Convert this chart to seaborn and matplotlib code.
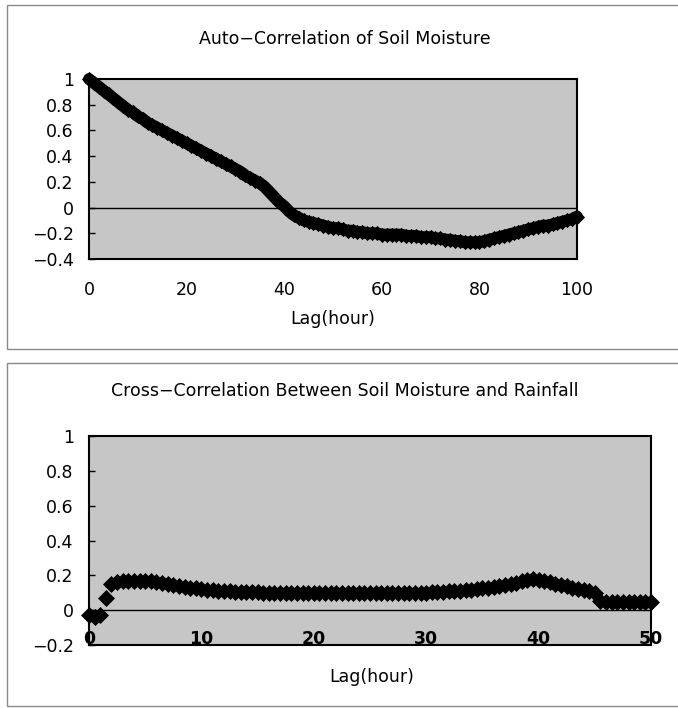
import pandas as pd
import seaborn as sns
import matplotlib.pyplot as plt
from matplotlib.patches import Rectangle

# 1. data
# auto-correlation of soil moisture, lag 0..100 hours
auto_lag = list(range(0, 101))
auto_r = [1.00, 0.97, 0.94, 0.91, 0.88, 0.85, 0.82, 0.79, 0.76, 0.74,
          0.71, 0.69, 0.66, 0.64, 0.62, 0.60, 0.58, 0.56, 0.54, 0.52,
          0.50, 0.48, 0.46, 0.44, 0.42, 0.40, 0.38, 0.36, 0.34, 0.32,
          0.30, 0.28, 0.25, 0.23, 0.21, 0.19, 0.16, 0.12, 0.08, 0.04,
          0.01, -0.03, -0.06, -0.08, -0.10, -0.11, -0.12, -0.13, -0.14, -0.15,
          -0.16, -0.16, -0.17, -0.18, -0.18, -0.19, -0.19, -0.20, -0.20, -0.20,
          -0.21, -0.21, -0.21, -0.21, -0.21, -0.22, -0.22, -0.22, -0.23, -0.23,
          -0.23, -0.24, -0.24, -0.25, -0.25, -0.26, -0.26, -0.27, -0.27, -0.27,
          -0.27, -0.26, -0.25, -0.24, -0.23, -0.22, -0.21, -0.20, -0.19, -0.18,
          -0.17, -0.16, -0.15, -0.14, -0.14, -0.13, -0.12, -0.11, -0.10, -0.09,
          -0.07]

# cross-correlation soil moisture / rainfall, lag 0..50 hours every half hour
cross_lag = [i / 2 for i in range(0, 101)]
cross_r = [-0.03, -0.04, -0.03, 0.07, 0.15, 0.16, 0.165, 0.17, 0.17, 0.17,
           0.17, 0.165, 0.16, 0.155, 0.15, 0.145, 0.14, 0.135, 0.13, 0.125,
           0.12, 0.118, 0.115, 0.112, 0.11, 0.108, 0.106, 0.105, 0.104, 0.103,
           0.102, 0.101, 0.10, 0.10, 0.10, 0.10, 0.10, 0.10, 0.10, 0.10,
           0.10, 0.10, 0.10, 0.10, 0.10, 0.10, 0.10, 0.10, 0.10, 0.10,
           0.10, 0.10, 0.10, 0.10, 0.10, 0.10, 0.10, 0.10, 0.10, 0.10,
           0.10, 0.102, 0.104, 0.106, 0.108, 0.11, 0.112, 0.115, 0.118, 0.12,
           0.125, 0.13, 0.135, 0.14, 0.145, 0.15, 0.158, 0.165, 0.172, 0.178,
           0.175, 0.168, 0.16, 0.152, 0.145, 0.138, 0.13, 0.122, 0.115, 0.108,
           0.10, 0.05, 0.045, 0.045, 0.045, 0.045, 0.045, 0.045, 0.045, 0.045,
           0.045]

auto_xticks = [0, 20, 40, 60, 80, 100]
auto_yticks = [-0.4, -0.2, 0, 0.2, 0.4, 0.6, 0.8, 1]
auto_ylabels = ['\u22120.4', '\u22120.2', '0', '0.2', '0.4', '0.6', '0.8', '1']
cross_xticks = [0, 10, 20, 30, 40, 50]
cross_yticks = [-0.2, 0, 0.2, 0.4, 0.6, 0.8, 1]
cross_ylabels = ['\u22120.2', '0', '0.2', '0.4', '0.6', '0.8', '1']

auto_df = pd.DataFrame({'lag': auto_lag, 'r': auto_r})
cross_df = pd.DataFrame({'lag': cross_lag, 'r': cross_r})

# 2. style
sns.set_style('white')
plt.rcParams['font.family'] = ['DejaVu Sans']
plt.rcParams['text.color'] = 'black'
plt.rcParams['xtick.color'] = 'black'
plt.rcParams['ytick.color'] = 'black'

W, H = 678, 708
fig = plt.figure(figsize=(W / 100, H / 100), dpi=100)
fs = 12.5


def px_axes(left, top, right, bottom):
    return fig.add_axes([left / W, 1 - bottom / H, (right - left) / W, (bottom - top) / H])


# panel frames
for top, bottom in [(5, 349), (363, 706)]:
    fig.patches.append(Rectangle((7 / W, 1 - bottom / H), 1.0, (bottom - top) / H,
                                 transform=fig.transFigure, fill=False,
                                 edgecolor='#8a8a8a', linewidth=1.0))

bg = '#c6c6c6'

# 3. top panel
ax1 = px_axes(89, 79, 577, 259)
ax1.set_facecolor(bg)
ax1.axhline(0, color='black', linewidth=1.0, zorder=1)
sns.lineplot(data=auto_df, x='lag', y='r', ax=ax1, color='black', linewidth=8.5,
             zorder=3, clip_on=False)
sns.scatterplot(data=auto_df, x='lag', y='r', ax=ax1, marker='D', s=60,
                color='black', linewidth=0, zorder=3, clip_on=False)
ax1.set_xlim(0, 100)
ax1.set_ylim(-0.4, 1)
ax1.set_xticks(auto_xticks)
ax1.set_xticklabels([str(t) for t in auto_xticks])
ax1.set_yticks(auto_yticks)
ax1.set_yticklabels(auto_ylabels)
ax1.tick_params(axis='x', length=0, pad=16, labelsize=fs)
ax1.tick_params(axis='y', direction='in', length=4, width=1, pad=11, labelsize=fs,
                left=True)
ax1.set_xlabel('')
ax1.set_ylabel('')
for s in ax1.spines.values():
    s.set_color('black')
    s.set_linewidth(1.5)
fig.text(345 / W, 1 - 39 / H, 'Auto\u2212Correlation of Soil Moisture',
         ha='center', va='center', fontsize=fs)
fig.text(333 / W, 1 - 319 / H, 'Lag(hour)', ha='center', va='center', fontsize=fs)

# 4. bottom panel
ax2 = px_axes(89, 436, 651, 645)
ax2.set_facecolor(bg)
ax2.axhline(0, color='black', linewidth=1.0, zorder=1)
sns.scatterplot(data=cross_df, x='lag', y='r', ax=ax2, marker='D', s=75,
                color='black', linewidth=0, zorder=3, clip_on=False)
ax2.set_xlim(0, 50)
ax2.set_ylim(-0.2, 1)
ax2.set_xticks(cross_xticks)
ax2.set_xticklabels([str(t) for t in cross_xticks])
ax2.set_yticks(cross_yticks)
ax2.set_yticklabels(cross_ylabels)
ax2.tick_params(axis='x', length=0, pad=-11, labelsize=fs)
ax2.tick_params(axis='y', direction='in', length=4, width=1, pad=11, labelsize=fs,
                left=True)
for lab in ax2.get_xticklabels():
    lab.set_fontweight('bold')
ax2.set_xlabel('')
ax2.set_ylabel('')
for s in ax2.spines.values():
    s.set_color('black')
    s.set_linewidth(1.5)
fig.text(345 / W, 1 - 391 / H, 'Cross\u2212Correlation Between Soil Moisture and Rainfall',
         ha='center', va='center', fontsize=fs)
fig.text(372 / W, 1 - 677 / H, 'Lag(hour)', ha='center', va='center', fontsize=fs)

fig.savefig('out.png', dpi=100)
